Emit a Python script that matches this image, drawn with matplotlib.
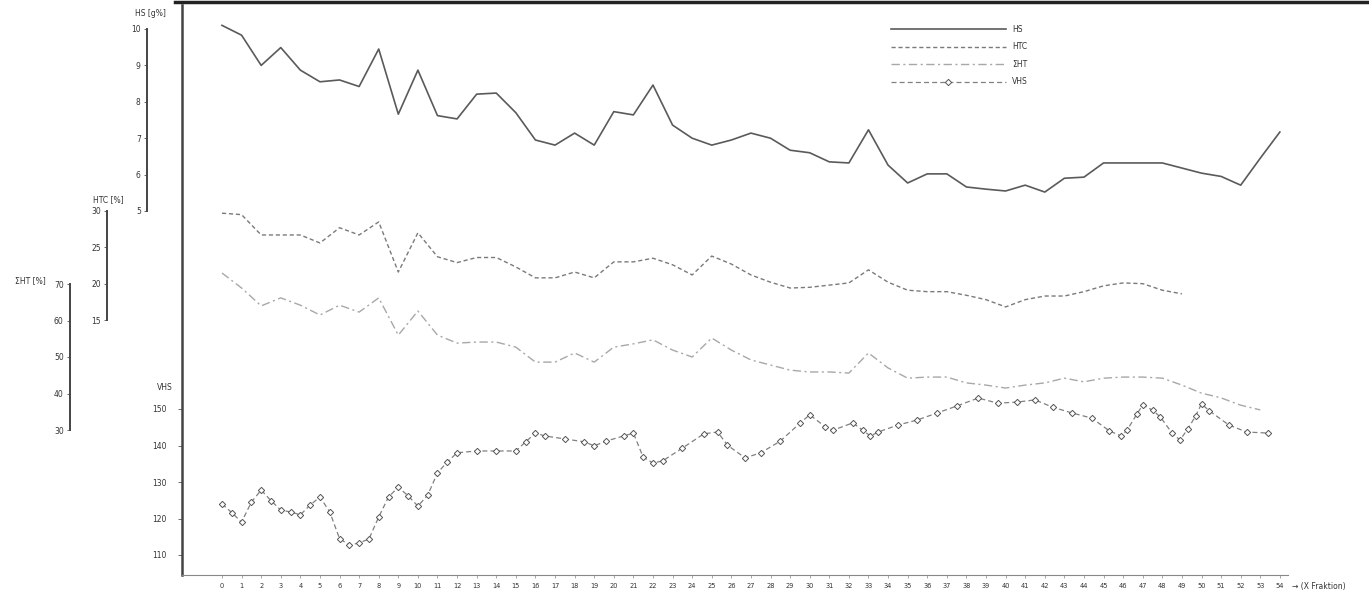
import matplotlib
matplotlib.use("Agg")
import matplotlib.pyplot as plt
from matplotlib.lines import Line2D

# ---------------- data ----------------
fractions = list(range(55))
x_ticklabels = [str(i) for i in fractions]

hs = [10.1, 9.83, 9.0, 9.49, 8.87, 8.55, 8.6, 8.42, 9.45, 7.66,
      8.87, 7.62, 7.53, 8.21, 8.24, 7.7, 6.95, 6.81, 7.14, 6.81,
      7.73, 7.64, 8.46, 7.36, 7.0, 6.81, 6.95, 7.14, 7.0, 6.67,
      6.6, 6.35, 6.32, 7.23, 6.26, 5.77, 6.02, 6.02, 5.66, 5.6,
      5.55, 5.71, 5.52, 5.9, 5.93, 6.32, 6.32, 6.32, 6.32, 6.18,
      6.04, 5.95, 5.71, 6.45, 7.17]

htc = [29.7, 29.5, 26.7, 26.7, 26.7, 25.6, 27.7, 26.7, 28.5, 21.6,
       27.0, 23.7, 22.9, 23.6, 23.6, 22.3, 20.8, 20.8, 21.6, 20.8,
       23.0, 23.0, 23.5, 22.6, 21.2, 23.8, 22.7, 21.2, 20.2, 19.4,
       19.5, 19.8, 20.1, 21.9, 20.2, 19.1, 18.9, 18.9, 18.4, 17.8,
       16.8, 17.8, 18.3, 18.3, 18.9, 19.7, 20.1, 20.0, 19.1, 18.6]

sht = [73.0, 68.9, 64.0, 66.2, 64.2, 61.5, 64.2, 62.3, 66.2, 56.0,
       62.6, 56.0, 53.8, 54.1, 54.1, 52.7, 48.6, 48.6, 51.1, 48.6,
       52.7, 53.6, 54.7, 51.9, 50.0, 55.2, 51.9, 49.2, 47.8, 46.4,
       45.9, 45.9, 45.6, 51.1, 47.0, 44.2, 44.5, 44.5, 42.9, 42.3,
       41.5, 42.3, 42.9, 44.2, 43.2, 44.2, 44.5, 44.5, 44.2, 42.3,
       40.1, 38.8, 36.8, 35.5]

vhs_x = [0, 0.5, 1, 1.5, 2, 2.5, 3, 3.5, 4, 4.5, 5, 5.5, 6, 6.5, 7, 7.5,
         8, 8.5, 9, 9.5, 10, 10.5, 11, 11.5, 12, 13, 14, 15, 15.5, 16,
         16.5, 17.5, 18.5, 19, 19.6, 20.5, 21, 21.5, 22, 22.5, 23.5, 24.6,
         25.3, 25.8, 26.7, 27.5, 28.5, 29.5, 30, 30.8, 31.2, 32.2, 32.7,
         33.1, 33.5, 34.5, 35.5, 36.5, 37.5, 38.6, 39.6, 40.6, 41.5, 42.4,
         43.4, 44.4, 45.3, 45.9, 46.2, 46.7, 47.0, 47.5, 47.9, 48.5, 48.9,
         49.3, 49.7, 50.0, 50.4, 51.4, 52.3, 53.4]
vhs = [124.0, 121.6, 119.0, 124.5, 127.8, 124.9, 122.3, 121.8, 121.0, 123.7,
       125.9, 121.8, 114.5, 112.7, 113.3, 114.4, 120.4, 125.9, 128.6, 126.2,
       123.4, 126.4, 132.5, 135.5, 138.0, 138.5, 138.5, 138.5, 141.0, 143.4,
       142.6, 141.8, 141.0, 139.9, 141.2, 142.6, 143.4, 136.8, 135.2, 135.8,
       139.3, 143.2, 143.7, 140.1, 136.6, 138.0, 141.2, 146.1, 148.4, 145.1,
       144.2, 146.2, 144.2, 142.6, 143.7, 145.6, 147.0, 148.9, 150.8, 153.0,
       151.6, 151.9, 152.5, 150.5, 148.9, 147.5, 144.0, 142.6, 144.2, 148.6,
       151.1, 149.7, 147.8, 143.4, 141.5, 144.5, 148.1, 151.4, 149.5, 145.6,
       143.7, 143.4]

hs_ticks = [5, 6, 7, 8, 9, 10]
htc_ticks = [15, 20, 25, 30]
sht_ticks = [30, 40, 50, 60, 70]
vhs_ticks = [110, 120, 130, 140, 150]

legend_labels = ["HS", "HTC", "ΣHT", "VHS"]

# ---------------- layout ----------------
W, H = 1369, 594
fig = plt.figure(figsize=(W / 100, H / 100), dpi=100)
fig.patch.set_facecolor("white")
plt.rcParams["font.family"] = ["DejaVu Sans"]

ax_l, ax_r, ax_b, ax_t = 182, 1288, 575, 5
rect = [ax_l / W, 1 - ax_b / H, (ax_r - ax_l) / W, (ax_b - ax_t) / H]
axw = ax_r - ax_l

def px_lim(v1, p1, v2, p2):
    # value limits so that v1 sits at pixel row p1 and v2 at pixel row p2
    s = (v1 - v2) / (p2 - p1)
    return v1 - (ax_b - p1) * s, v1 + (p1 - ax_t) * s

tcol = "#333333"
fs = 5.5

# main (VHS) axes
ax = fig.add_axes(rect)
ax.set_xlim(-40 / 19.59, (ax_r - 222) / 19.59)
ax.set_ylim(*px_lim(150, 409, 110, 555))
for s in ["top", "right"]:
    ax.spines[s].set_visible(False)
ax.spines["left"].set_color("#444444")
ax.spines["left"].set_linewidth(1.8)
ax.spines["bottom"].set_color("#888888")
ax.spines["bottom"].set_linewidth(0.8)
ax.set_xticks(fractions)
ax.set_xticklabels(x_ticklabels, fontsize=4.8, color=tcol)
ax.tick_params(axis="x", length=2, width=0.6, color="#999999", pad=4)
ax.set_yticks(vhs_ticks)
ax.set_yticklabels([str(t) for t in vhs_ticks], fontsize=fs, color=tcol)
ax.tick_params(axis="y", length=3, width=0.6, color="#555555", pad=8)

ax.plot(vhs_x, vhs, color="#808080", lw=0.9, ls=(0, (4, 2.5)),
        marker="D", ms=3.2, mfc="white", mec="#555555", mew=0.7, label=legend_labels[3])

def side_axis(ylims, ticks, spine_px):
    a = fig.add_axes(rect, sharex=ax)
    a.set_ylim(*ylims)
    a.patch.set_visible(False)
    a.xaxis.set_visible(False)
    for s in ["top", "right", "bottom"]:
        a.spines[s].set_visible(False)
    a.spines["left"].set_position(("axes", (spine_px - ax_l) / axw))
    a.spines["left"].set_bounds(min(ticks), max(ticks))
    a.spines["left"].set_color("#444444")
    a.spines["left"].set_linewidth(1.4)
    a.set_yticks(ticks)
    a.set_yticklabels([str(t) for t in ticks], fontsize=fs, color=tcol)
    a.tick_params(axis="y", length=2.5, width=0.6, color="#555555", pad=2)
    return a

ax_hs = side_axis(px_lim(10, 29, 5, 211), hs_ticks, 147)
ax_htc = side_axis(px_lim(30, 211, 15, 320), htc_ticks, 107)
ax_sht = side_axis(px_lim(70, 284, 30, 430), sht_ticks, 70)

l_hs, = ax_hs.plot(fractions, hs, color="#5a5a5a", lw=1.2, label=legend_labels[0])
l_htc, = ax_htc.plot(fractions[:len(htc)], htc, color="#7a7a7a", lw=1.0,
                     ls=(0, (3, 2)), label=legend_labels[1])
l_sht, = ax_sht.plot(fractions[:len(sht)], sht, color="#a8a8a8", lw=1.0,
                     ls=(0, (6, 2.5, 1.5, 2.5)), label=legend_labels[2])
l_vhs = ax.get_lines()[0]

# axis titles
def ftext(x, y, s, **kw):
    fig.text(x / W, 1 - y / H, s, fontsize=fs, color=tcol, **kw)

ftext(150, 13, "HS [g%]", ha="center", va="center")
ftext(108, 200, "HTC [%]", ha="center", va="center")
ftext(30, 281, "ΣHT [%]", ha="center", va="center")
ftext(165, 388, "VHS", ha="center", va="center")
ftext(1292, 587, "→ (X Fraktion)", ha="left", va="center")

# legend
leg = ax_sht.legend([l_hs, l_htc, l_sht, l_vhs], legend_labels,
                    loc="upper left",
                    bbox_to_anchor=((888 - ax_l) / axw, 1 - (22 - ax_t) / (ax_b - ax_t)),
                    frameon=False, fontsize=fs, handlelength=15, labelspacing=1.1,
                    handletextpad=0.8, borderaxespad=0)
for t in leg.get_texts():
    t.set_color(tcol)

# scan edge line at top
fig.add_artist(Line2D([175 / W, 1.0], [1 - 1.5 / H, 1 - 1.5 / H],
                      transform=fig.transFigure, color="#222222", lw=2.5))

fig.savefig("out.png", dpi=100, facecolor="white")
